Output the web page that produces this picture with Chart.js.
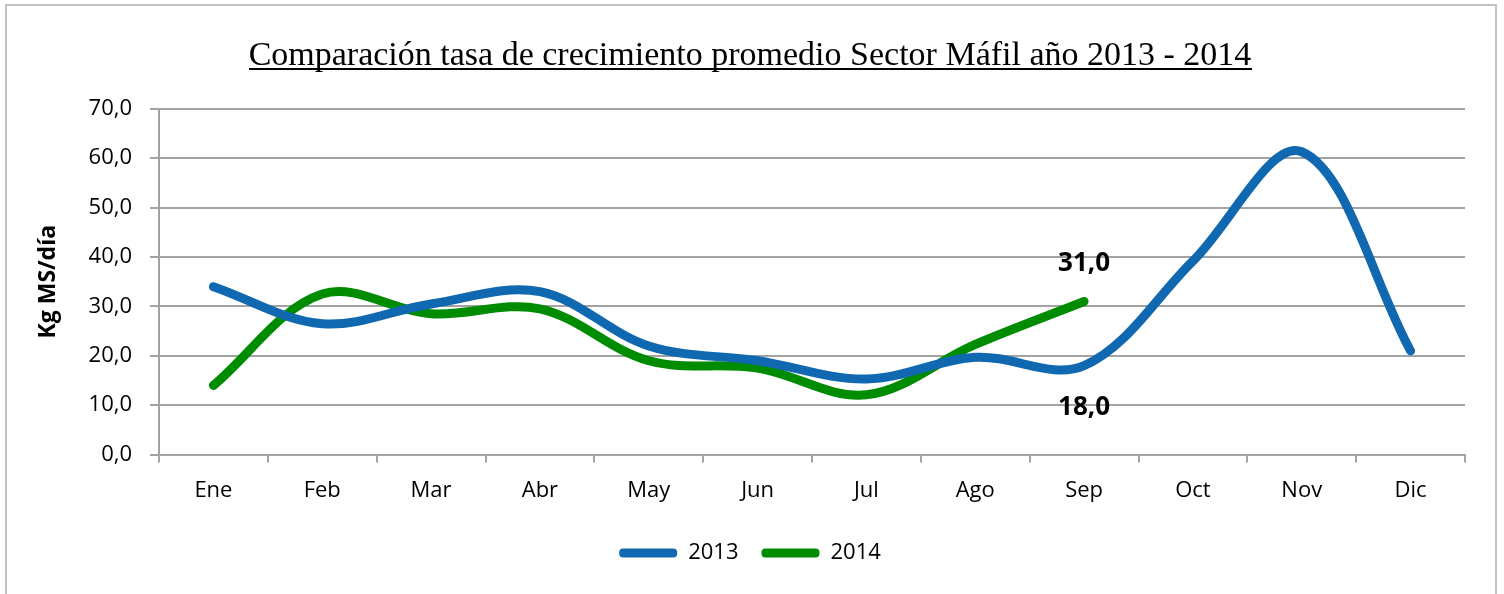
<!DOCTYPE html>
<html>
<head>
<meta charset="utf-8">
<script src="https://cdn.jsdelivr.net/npm/chart.js@4"></script>
<style>
  html, body { margin: 0; padding: 0; background: #fff; }
  #wrap { width: 1504px; height: 594px; }
</style>
</head>
<body>
<div id="wrap"><canvas id="growthChart" width="1504" height="594"></canvas></div>
<script>
const months = ["Ene", "Feb", "Mar", "Abr", "May", "Jun", "Jul", "Ago", "Sep", "Oct", "Nov", "Dic"];
const rate2013 = [34.0, 26.5, 30.5, 33.0, 22.0, 19.0, 15.3, 19.7, 18.0, 39.2, 61.3, 21.0];
const rate2014 = [14.0, 32.5, 28.5, 29.5, 19.0, 17.5, 12.1, 22.3, 31.0];
const yTicks = [0, 10, 20, 30, 40, 50, 60, 70];
// which points get a value label, and on which side
const pointLabels = [
  { series: 0, index: 8, side: "below" },
  { series: 1, index: 8, side: "above" }
];

const fmt = v => v.toFixed(1).replace(".", ",");

// outer frame + underline under the title
const framePlugin = {
  id: "frame",
  beforeDraw(chart) {
    const { ctx } = chart;
    ctx.save();
    ctx.strokeStyle = "#c2c2c2";
    ctx.lineWidth = 2;
    ctx.strokeRect(6, 5, 1490, 620);
    ctx.restore();
  },
  afterDraw(chart) {
    const { ctx } = chart;
    const tb = chart.titleBlock;
    const opts = chart.options.plugins.title;
    ctx.save();
    ctx.font = `${opts.font.size}px ${opts.font.family}`;
    ctx.textBaseline = "middle";
    const w = ctx.measureText(opts.text).width;
    const cy = tb.top + opts.padding.top + opts.font.size * opts.font.lineHeight / 2;
    const base = cy + ctx.measureText("x").actualBoundingBoxDescent;
    const cx = (tb.left + tb.right) / 2;
    ctx.fillStyle = "#000";
    ctx.fillRect(Math.round(cx - w / 2), Math.round(base + 3), Math.round(w), 2);
    ctx.restore();
  }
};

const valueLabels = {
  id: "valueLabels",
  afterDatasetsDraw(chart) {
    const { ctx } = chart;
    ctx.save();
    ctx.font = "bold 26px 'Open Sans'";
    ctx.fillStyle = "#000";
    ctx.textAlign = "center";
    ctx.textBaseline = "middle";
    pointLabels.forEach(p => {
      const pt = chart.getDatasetMeta(p.series).data[p.index];
      const v = chart.data.datasets[p.series].data[p.index];
      const y = p.side === "above" ? pt.y - 38 : pt.y + 42;
      ctx.fillText(fmt(v), pt.x, y);
    });
    ctx.restore();
  }
};

const gridGray = "#a3a3a3";

new Chart(document.getElementById("growthChart"), {
  type: "line",
  data: {
    labels: months,
    datasets: [
      {
        label: "2013",
        data: rate2013,
        borderColor: "#1068b0",
        backgroundColor: "#1068b0",
        borderWidth: 9,
        borderCapStyle: "round",
        borderJoinStyle: "round",
        tension: 0.35,
        pointRadius: 0
      },
      {
        label: "2014",
        data: rate2014,
        borderColor: "#008c00",
        backgroundColor: "#008c00",
        borderWidth: 9,
        borderCapStyle: "round",
        borderJoinStyle: "round",
        tension: 0.35,
        pointRadius: 0
      }
    ]
  },
  options: {
    responsive: false,
    animation: false,
    layout: { padding: { left: 35, right: 39, top: 10, bottom: 20 } },
    scales: {
      x: {
        offset: true,
        grid: {
          offset: true,
          drawOnChartArea: false,
          drawTicks: true,
          tickLength: 8,
          color: gridGray,
          lineWidth: 2
        },
        border: { color: gridGray, width: 2 },
        ticks: {
          color: "#000",
          padding: 15,
          font: { family: "'Open Sans'", size: 22 }
        }
      },
      y: {
        min: 0,
        max: 70,
        afterBuildTicks: scale => { scale.ticks = yTicks.map(v => ({ value: v })); },
        afterFit: scale => { scale.width = 124; },
        grid: { color: gridGray, lineWidth: 2, tickLength: 9 },
        border: { color: gridGray, width: 2 },
        ticks: {
          color: "#000",
          padding: 18,
          font: { family: "'Open Sans'", size: 22 },
          callback: v => fmt(v)
        },
        title: {
          display: true,
          text: "Kg MS/día",
          color: "#000",
          padding: { top: 0, bottom: 0 },
          font: { family: "'Open Sans'", size: 23, weight: "bold" }
        }
      }
    },
    plugins: {
      title: {
        display: true,
        text: "Comparación tasa de crecimiento promedio Sector Máfil año 2013 - 2014",
        color: "#000",
        padding: { top: 26, bottom: 32 },
        font: { family: "'Liberation Serif'", size: 34, weight: "normal", lineHeight: 1.2 }
      },
      legend: {
        position: "bottom",
        labels: {
          color: "#000",
          boxWidth: 58,
          boxHeight: 9,
          useBorderRadius: true,
          borderRadius: 4,
          padding: 23,
          font: { family: "'Open Sans'", size: 22 },
          generateLabels: c =>
            Chart.defaults.plugins.legend.labels.generateLabels(c).map(l => ({ ...l, lineWidth: 0 }))
        }
      },
      tooltip: { enabled: false }
    }
  },
  plugins: [framePlugin, valueLabels]
});
</script>
</body>
</html>
